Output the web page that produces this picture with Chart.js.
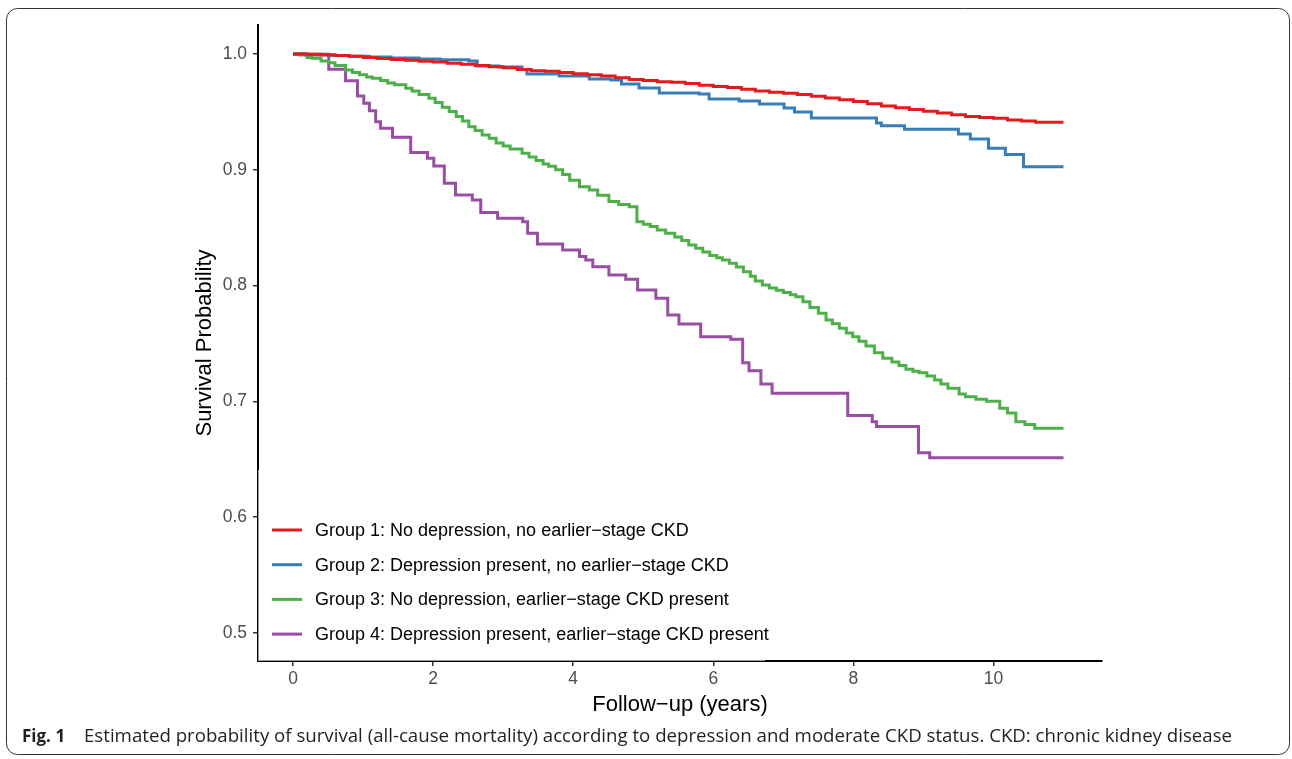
<!DOCTYPE html>
<html>
<head>
<meta charset="utf-8">
<script src="https://cdn.jsdelivr.net/npm/chart.js@4.4.1/dist/chart.umd.min.js"></script>
<style>
  body { margin: 0; background: #fff; }
  #wrap { width: 1292px; height: 759px; }
</style>
</head>
<body>
<div id="wrap"><canvas id="km" width="1292" height="759"></canvas></div>
<script>
// Kaplan-Meier curves (time in years, survival probability)
const groupLabels = [
  'Group 1: No depression, no earlier\u2212stage CKD',
  'Group 2: Depression present, no earlier\u2212stage CKD',
  'Group 3: No depression, earlier\u2212stage CKD present',
  'Group 4: Depression present, earlier\u2212stage CKD present'
];
const groupColors = ['#E41A1C', '#377EB8', '#4DAF4A', '#984EA3'];

const g1Time = [0, 0.2, 0.4, 0.6, 0.8, 1.0, 1.2, 1.4, 1.6, 1.8, 2.0, 2.2, 2.4, 2.6, 2.8, 3.0, 3.2, 3.4, 3.6, 3.8,
  4.0, 4.2, 4.4, 4.6, 4.8, 5.0, 5.2, 5.4, 5.6, 5.8, 6.0, 6.2, 6.4, 6.6, 6.8, 7.0, 7.2, 7.4, 7.6, 7.8,
  8.0, 8.2, 8.4, 8.6, 8.8, 9.0, 9.2, 9.4, 9.6, 9.8, 10.0, 10.2, 10.4, 10.6, 11.0];
const g1Surv = [1.000, 0.9997, 0.9993, 0.9987, 0.998, 0.997, 0.996, 0.9953, 0.9945, 0.9938, 0.993, 0.992, 0.991,
  0.990, 0.989, 0.988, 0.9865, 0.9855, 0.985, 0.984, 0.983, 0.982, 0.981, 0.9795, 0.978, 0.977, 0.976, 0.9755,
  0.9745, 0.973, 0.972, 0.971, 0.9695, 0.968, 0.967, 0.966, 0.965, 0.9635, 0.962, 0.9605, 0.959, 0.957, 0.955,
  0.9535, 0.952, 0.9505, 0.949, 0.9475, 0.946, 0.9452, 0.9445, 0.943, 0.942, 0.941, 0.941];

const g2Time = [0, 0.2, 0.51, 0.8, 1.09, 1.4, 1.8, 2.1, 2.51, 2.63, 2.94, 3.27, 3.34, 3.8, 4.23, 4.54, 4.69, 4.94,
  5.23, 5.8, 5.94, 6.37, 6.66, 7.01, 7.16, 7.4, 8.33, 8.4, 8.73, 9.5, 9.67, 9.93, 10.17, 10.43, 11.0];
const g2Surv = [1.000, 0.9997, 0.9987, 0.998, 0.9974, 0.9965, 0.9957, 0.995, 0.994, 0.9896, 0.9888, 0.9866,
  0.9827, 0.981, 0.9784, 0.9775, 0.9741, 0.9706, 0.9663, 0.9655, 0.9611, 0.9594, 0.9568, 0.9534, 0.9499, 0.9447,
  0.9404, 0.9381, 0.935, 0.9309, 0.9266, 0.9186, 0.9131, 0.9027, 0.9027];

const g3Time = [0, 0.1, 0.2, 0.27, 0.4, 0.51, 0.6, 0.75, 0.85, 0.95, 1.05, 1.13, 1.25, 1.35, 1.45, 1.61, 1.7, 1.8,
  1.94, 2.03, 2.13, 2.23, 2.33, 2.42, 2.51, 2.6, 2.7, 2.8, 2.9, 3.0, 3.1, 3.27, 3.37, 3.47, 3.57, 3.65, 3.75,
  3.85, 3.95, 4.09, 4.23, 4.35, 4.51, 4.65, 4.8, 4.91, 5.0, 5.1, 5.2, 5.32, 5.45, 5.55, 5.65, 5.75, 5.85, 5.95,
  6.05, 6.13, 6.23, 6.33, 6.43, 6.53, 6.6, 6.7, 6.8, 6.9, 7.0, 7.1, 7.18, 7.28, 7.38, 7.5, 7.61, 7.7, 7.8, 7.9,
  7.99, 8.08, 8.18, 8.3, 8.42, 8.55, 8.65, 8.75, 8.85, 8.94, 9.05, 9.16, 9.25, 9.35, 9.51, 9.6, 9.75, 9.9,
  10.09, 10.2, 10.32, 10.45, 10.59, 11.0];
const g3Surv = [1.000, 0.999, 0.997, 0.9963, 0.994, 0.9925, 0.990, 0.9862, 0.984, 0.982, 0.980, 0.979, 0.977,
  0.975, 0.9735, 0.9704, 0.968, 0.965, 0.9617, 0.958, 0.954, 0.9502, 0.946, 0.942, 0.9372, 0.934, 0.930, 0.9272,
  0.923, 0.9205, 0.918, 0.9142, 0.911, 0.908, 0.905, 0.903, 0.900, 0.896, 0.891, 0.8854, 0.8826, 0.878, 0.8725,
  0.870, 0.8681, 0.8552, 0.853, 0.851, 0.848, 0.8452, 0.842, 0.839, 0.835, 0.8322, 0.829, 0.826, 0.824, 0.822,
  0.8193, 0.816, 0.812, 0.808, 0.804, 0.8005, 0.798, 0.796, 0.794, 0.792, 0.7904, 0.786, 0.781, 0.776, 0.7703,
  0.767, 0.7631, 0.759, 0.7559, 0.752, 0.7478, 0.742, 0.7372, 0.734, 0.731, 0.7277, 0.726, 0.7248, 0.722, 0.7185,
  0.715, 0.7113, 0.7064, 0.704, 0.7018, 0.700, 0.694, 0.690, 0.6825, 0.680, 0.6768, 0.6768];

const g4Time = [0, 0.18, 0.51, 0.75, 0.92, 1.01, 1.09, 1.18, 1.25, 1.42, 1.68, 1.92, 2.01, 2.16, 2.32, 2.56, 2.68,
  2.92, 3.28, 3.35, 3.49, 3.85, 4.09, 4.18, 4.28, 4.51, 4.75, 4.92, 5.18, 5.35, 5.51, 5.82, 6.25, 6.42, 6.51, 6.68,
  6.84, 7.92, 8.27, 8.33, 8.93, 9.09, 11.0];
const g4Surv = [1.000, 0.9991, 0.9868, 0.9769, 0.9637, 0.9574, 0.951, 0.9415, 0.9358, 0.9281, 0.9148, 0.9099,
  0.9033, 0.8883, 0.8782, 0.8739, 0.863, 0.8581, 0.8552, 0.8452, 0.8359, 0.8307, 0.825, 0.8221, 0.8163, 0.8092,
  0.8054, 0.7962, 0.789, 0.7746, 0.7668, 0.7558, 0.7536, 0.7334, 0.7265, 0.715, 0.707, 0.6877, 0.6825, 0.6782,
  0.6557, 0.6514, 0.6514];

const xTicks = [0, 2, 4, 6, 8, 10];
const yTicks = [0.5, 0.6, 0.7, 0.8, 0.9, 1.0];

const xTitle = 'Follow\u2212up (years)';
const yTitle = 'Survival Probability';
const captionBold = 'Fig. 1';
const captionText = 'Estimated probability of survival (all-cause mortality) according to depression and moderate CKD status. CKD: chronic kidney disease';

const times = [g1Time, g2Time, g3Time, g4Time];
const survs = [g1Surv, g2Surv, g3Surv, g4Surv];

const datasets = groupLabels.map((label, i) => ({
  label: label,
  data: times[i].map((t, k) => ({ x: t, y: survs[i][k] })),
  borderColor: groupColors[i],
  borderWidth: 3,
  stepped: 'before',
  pointRadius: 0,
  fill: false
}));

const fontSans = '"Liberation Sans", Arial, sans-serif';

// extra drawing: frame, axis titles, legend inside the panel, caption
const decor = {
  id: 'decor',
  afterDraw(chart) {
    const ctx = chart.ctx;
    const area = chart.chartArea;
    ctx.save();

    // legend box partly covers the axis lines
    ctx.fillStyle = 'rgba(255,255,255,0.6)';
    ctx.fillRect(258, 470, 507, 191);

    // legend
    ctx.font = '18px ' + fontSans;
    ctx.textBaseline = 'middle';
    ctx.textAlign = 'left';
    groupLabels.forEach((lab, i) => {
      const y = 530 + i * 34.7;
      ctx.strokeStyle = groupColors[i];
      ctx.lineWidth = 3;
      ctx.beginPath();
      ctx.moveTo(272, y);
      ctx.lineTo(302, y);
      ctx.stroke();
      ctx.fillStyle = '#000';
      ctx.fillText(lab, 315, y + 1);
    });

    // axis titles
    ctx.fillStyle = '#000';
    ctx.font = '22px ' + fontSans;
    ctx.textAlign = 'center';
    ctx.fillText(xTitle, (area.left + area.right) / 2, 705);
    ctx.save();
    ctx.translate(205, (area.top + area.bottom) / 2);
    ctx.rotate(-Math.PI / 2);
    ctx.fillText(yTitle, 0, 0);
    ctx.restore();

    // caption
    ctx.textAlign = 'left';
    ctx.fillStyle = '#231f20';
    ctx.font = 'bold 17px "Open Sans", sans-serif';
    ctx.fillText(captionBold, 22, 737);
    ctx.font = '17px "Open Sans", sans-serif';
    const w = ctx.measureText(captionText).width;
    const size = 17 * 1148 / w;
    ctx.font = size.toFixed(2) + 'px "Open Sans", sans-serif';
    ctx.fillText(captionText, 84, 737);

    // rounded frame
    ctx.strokeStyle = '#333';
    ctx.lineWidth = 1;
    ctx.beginPath();
    ctx.roundRect(6.5, 8.5, 1283, 746, 11);
    ctx.stroke();
    ctx.restore();
  }
};

const tickFont = { family: fontSans, size: 17.5 };

new Chart(document.getElementById('km'), {
  type: 'line',
  data: { datasets: datasets },
  options: {
    responsive: false,
    animation: false,
    layout: { padding: { left: 0, top: 25, right: 190, bottom: 0 } },
    plugins: { legend: { display: false }, tooltip: { enabled: false } },
    scales: {
      x: {
        type: 'linear',
        min: -0.5,
        max: 11.55,
        afterBuildTicks: s => { s.ticks = xTicks.map(v => ({ value: v })); },
        afterFit: s => { s.height = 98; },
        grid: { drawOnChartArea: false, tickLength: 5, color: '#333', lineWidth: 1.5 },
        border: { display: true, color: '#000', width: 2 },
        ticks: { font: tickFont, color: '#4d4d4d', padding: 3, maxRotation: 0, callback: v => v }
      },
      y: {
        type: 'linear',
        min: 0.4758,
        max: 1.025,
        afterBuildTicks: s => { s.ticks = yTicks.map(v => ({ value: v })); },
        afterFit: s => { s.width = 258; },
        grid: { drawOnChartArea: false, tickLength: 5, color: '#333', lineWidth: 1.5 },
        border: { display: true, color: '#000', width: 2 },
        ticks: { font: tickFont, color: '#4d4d4d', padding: 6, callback: v => v.toFixed(1) }
      }
    }
  },
  plugins: [decor]
});
</script>
</body>
</html>
